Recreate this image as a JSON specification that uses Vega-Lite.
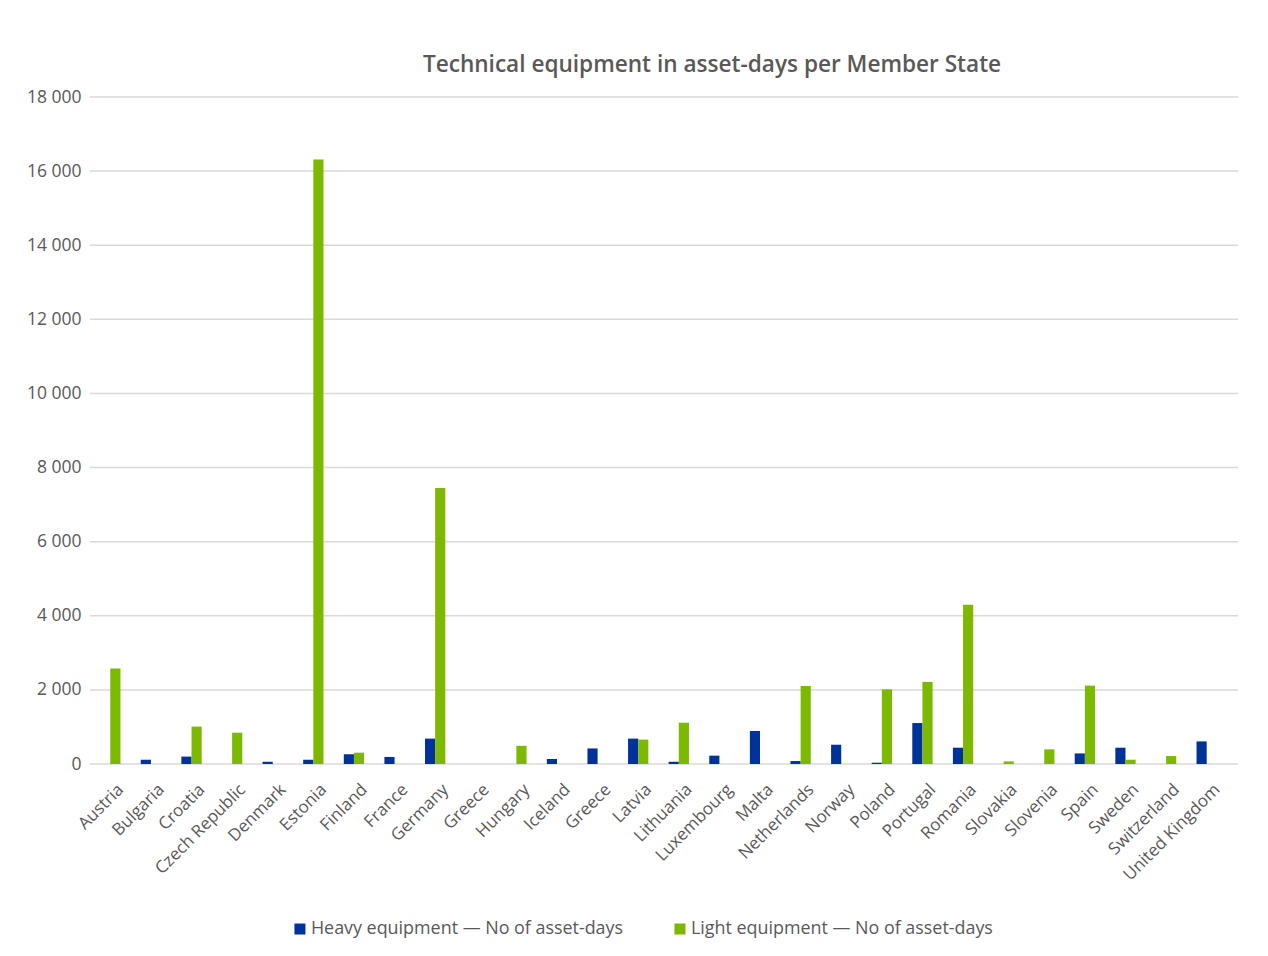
{
  "$schema": "https://vega.github.io/schema/vega-lite/v6.json",
  "width": 1148,
  "height": 667,
  "autosize": {"type": "none"},
  "padding": {"left": 90, "top": 97, "right": 30, "bottom": 192},
  "background": "white",
  "config": {
    "font": "Open Sans",
    "view": {"stroke": null}
  },
  "title": {
    "text": "Technical equipment in asset-days per Member State",
    "anchor": "middle",
    "dx": 48,
    "offset": 11,
    "fontSize": 22.6,
    "font": "Open Sans",
    "fontWeight": 600,
    "color": "#595959"
  },
  "datasets": {
    "gridlines": [
      {"value": 0}, {"value": 2000}, {"value": 4000}, {"value": 6000}, {"value": 8000},
      {"value": 10000}, {"value": 12000}, {"value": 14000}, {"value": 16000}, {"value": 18000}
    ],
    "assetdays": [
      {"country": "Austria", "series": "Heavy equipment — No of asset-days", "value": 0},
      {"country": "Austria", "series": "Light equipment — No of asset-days", "value": 2580},
      {"country": "Bulgaria", "series": "Heavy equipment — No of asset-days", "value": 115},
      {"country": "Bulgaria", "series": "Light equipment — No of asset-days", "value": 0},
      {"country": "Croatia", "series": "Heavy equipment — No of asset-days", "value": 200},
      {"country": "Croatia", "series": "Light equipment — No of asset-days", "value": 1010},
      {"country": "Czech Republic", "series": "Heavy equipment — No of asset-days", "value": 0},
      {"country": "Czech Republic", "series": "Light equipment — No of asset-days", "value": 845},
      {"country": "Denmark", "series": "Heavy equipment — No of asset-days", "value": 60},
      {"country": "Denmark", "series": "Light equipment — No of asset-days", "value": 0},
      {"country": "Estonia", "series": "Heavy equipment — No of asset-days", "value": 115},
      {"country": "Estonia", "series": "Light equipment — No of asset-days", "value": 16310},
      {"country": "Finland", "series": "Heavy equipment — No of asset-days", "value": 260},
      {"country": "Finland", "series": "Light equipment — No of asset-days", "value": 305},
      {"country": "France", "series": "Heavy equipment — No of asset-days", "value": 190},
      {"country": "France", "series": "Light equipment — No of asset-days", "value": 0},
      {"country": "Germany", "series": "Heavy equipment — No of asset-days", "value": 685},
      {"country": "Germany", "series": "Light equipment — No of asset-days", "value": 7450},
      {"country": "Greece", "series": "Heavy equipment — No of asset-days", "value": 0},
      {"country": "Greece", "series": "Light equipment — No of asset-days", "value": 0},
      {"country": "Hungary", "series": "Heavy equipment — No of asset-days", "value": 0},
      {"country": "Hungary", "series": "Light equipment — No of asset-days", "value": 490},
      {"country": "Iceland", "series": "Heavy equipment — No of asset-days", "value": 135},
      {"country": "Iceland", "series": "Light equipment — No of asset-days", "value": 0},
      {"country": "Greece ", "series": "Heavy equipment — No of asset-days", "value": 420},
      {"country": "Greece ", "series": "Light equipment — No of asset-days", "value": 0},
      {"country": "Latvia", "series": "Heavy equipment — No of asset-days", "value": 685},
      {"country": "Latvia", "series": "Light equipment — No of asset-days", "value": 658},
      {"country": "Lithuania", "series": "Heavy equipment — No of asset-days", "value": 60},
      {"country": "Lithuania", "series": "Light equipment — No of asset-days", "value": 1115},
      {"country": "Luxembourg", "series": "Heavy equipment — No of asset-days", "value": 225},
      {"country": "Luxembourg", "series": "Light equipment — No of asset-days", "value": 0},
      {"country": "Malta", "series": "Heavy equipment — No of asset-days", "value": 890},
      {"country": "Malta", "series": "Light equipment — No of asset-days", "value": 0},
      {"country": "Netherlands", "series": "Heavy equipment — No of asset-days", "value": 80},
      {"country": "Netherlands", "series": "Light equipment — No of asset-days", "value": 2105},
      {"country": "Norway", "series": "Heavy equipment — No of asset-days", "value": 520},
      {"country": "Norway", "series": "Light equipment — No of asset-days", "value": 0},
      {"country": "Poland", "series": "Heavy equipment — No of asset-days", "value": 35},
      {"country": "Poland", "series": "Light equipment — No of asset-days", "value": 2015},
      {"country": "Portugal", "series": "Heavy equipment — No of asset-days", "value": 1105},
      {"country": "Portugal", "series": "Light equipment — No of asset-days", "value": 2215},
      {"country": "Romania", "series": "Heavy equipment — No of asset-days", "value": 440},
      {"country": "Romania", "series": "Light equipment — No of asset-days", "value": 4300},
      {"country": "Slovakia", "series": "Heavy equipment — No of asset-days", "value": 0},
      {"country": "Slovakia", "series": "Light equipment — No of asset-days", "value": 70},
      {"country": "Slovenia", "series": "Heavy equipment — No of asset-days", "value": 0},
      {"country": "Slovenia", "series": "Light equipment — No of asset-days", "value": 395},
      {"country": "Spain", "series": "Heavy equipment — No of asset-days", "value": 285},
      {"country": "Spain", "series": "Light equipment — No of asset-days", "value": 2115},
      {"country": "Sweden", "series": "Heavy equipment — No of asset-days", "value": 440},
      {"country": "Sweden", "series": "Light equipment — No of asset-days", "value": 115},
      {"country": "Switzerland", "series": "Heavy equipment — No of asset-days", "value": 0},
      {"country": "Switzerland", "series": "Light equipment — No of asset-days", "value": 215},
      {"country": "United Kingdom", "series": "Heavy equipment — No of asset-days", "value": 610},
      {"country": "United Kingdom", "series": "Light equipment — No of asset-days", "value": 0}
    ]
  },
  "layer": [
    {
      "data": {"name": "gridlines"},
      "mark": {"type": "rule", "color": "#d9d9d9", "strokeWidth": 1.5},
      "encoding": {
        "y": {
          "field": "value",
          "type": "quantitative",
          "scale": {"domain": [0, 18000], "nice": false},
          "axis": {
            "title": null,
            "values": [0, 2000, 4000, 6000, 8000, 10000, 12000, 14000, 16000, 18000],
            "labelExpr": "replace(format(datum.value, ','), ',', ' ')",
            "grid": false,
            "domain": false,
            "ticks": false,
            "labelPadding": 9,
            "labelFontSize": 17.5,
            "labelColor": "#595959",
            "labelFont": "Open Sans"
          }
        }
      }
    },
    {
      "data": {"name": "assetdays"},
      "mark": {"type": "bar"},
      "encoding": {
        "x": {
          "field": "country",
          "type": "nominal",
          "sort": null,
          "scale": {"paddingInner": 0.5, "paddingOuter": 0.25, "range": [0, 1137]},
          "axis": {
            "title": null,
            "labelAngle": -45,
            "labelFontSize": 17,
            "labelColor": "#595959",
            "labelFont": "Open Sans",
            "domain": false,
            "ticks": false,
            "grid": false,
            "labelPadding": 17,
            "labelOffset": 5
          }
        },
        "xOffset": {
          "field": "series",
          "type": "nominal",
          "sort": ["Heavy equipment — No of asset-days", "Light equipment — No of asset-days"]
        },
        "y": {"field": "value", "type": "quantitative"},
        "color": {
          "field": "series",
          "type": "nominal",
          "sort": ["Heavy equipment — No of asset-days", "Light equipment — No of asset-days"],
          "scale": {"range": ["#00339A", "#7CB900"]},
          "legend": {
            "title": null,
            "orient": "none",
            "direction": "horizontal",
            "legendX": 201,
            "legendY": 823,
            "symbolType": "square",
            "symbolSize": 121,
            "symbolStrokeWidth": 0,
            "labelFontSize": 17.9,
            "labelColor": "#595959",
            "labelFont": "Open Sans",
            "labelOffset": 2,
            "columnPadding": 47,
            "labelLimit": 400
          }
        }
      }
    }
  ]
}
